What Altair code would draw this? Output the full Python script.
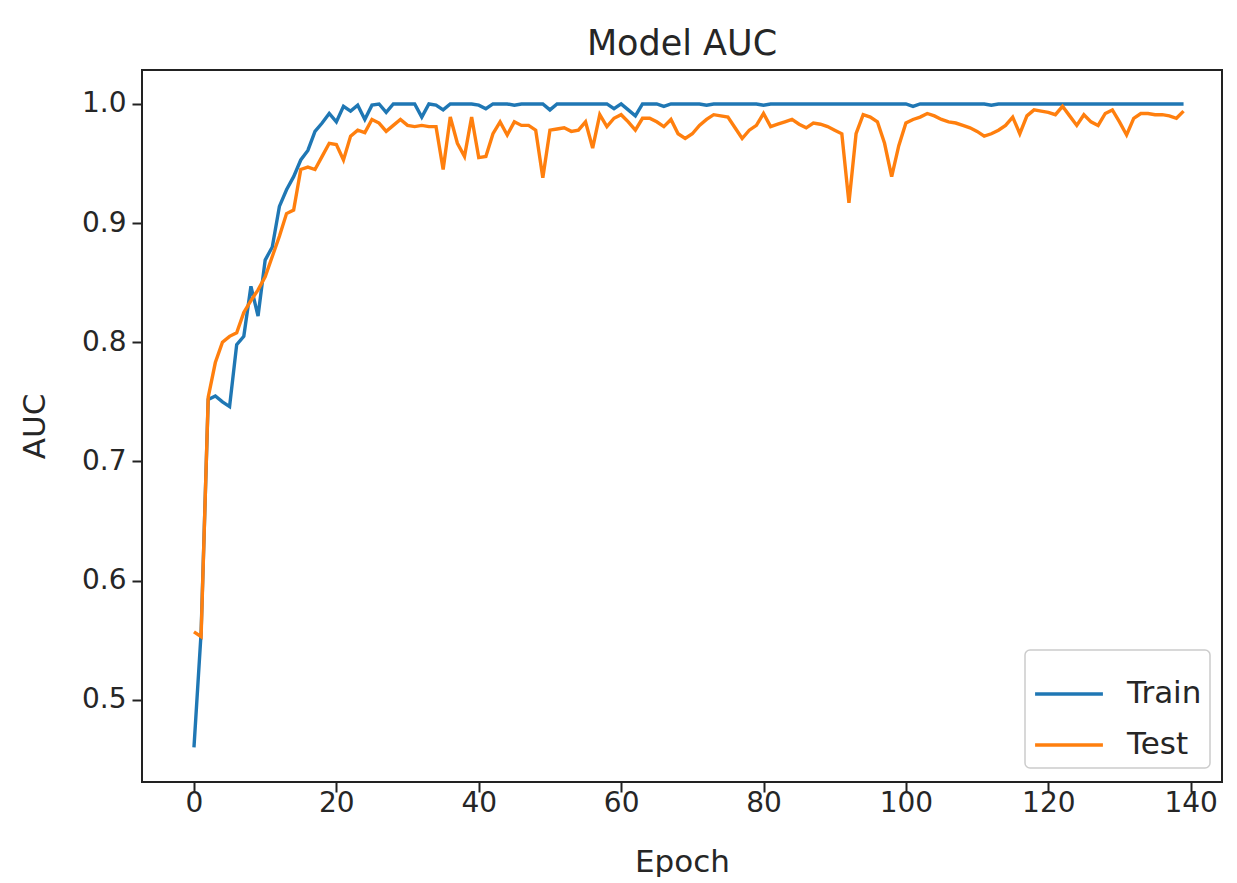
import altair as alt
import pandas as pd

epochs = list(range(140))

train_auc = [
    0.460, 0.556, 0.752, 0.755, 0.750, 0.746, 0.798, 0.805, 0.847, 0.822,
    0.869, 0.880, 0.914, 0.928, 0.939, 0.953, 0.961, 0.977, 0.984, 0.992,
    0.985, 0.998, 0.994, 0.999, 0.987, 0.999, 1.000, 0.993, 1.000, 1.000,
    1.000, 1.000, 0.989, 1.000, 0.999, 0.995, 1.000, 1.000, 1.000, 1.000,
    0.999, 0.996, 1.000, 1.000, 1.000, 0.999, 1.000, 1.000, 1.000, 1.000,
    0.995, 1.000, 1.000, 1.000, 1.000, 1.000, 1.000, 1.000, 1.000, 0.996,
    1.000, 0.995, 0.990, 1.000, 1.000, 1.000, 0.998, 1.000, 1.000, 1.000,
    1.000, 1.000, 0.999, 1.000, 1.000, 1.000, 1.000, 1.000, 1.000, 1.000,
    0.999, 1.000, 1.000, 1.000, 1.000, 1.000, 1.000, 1.000, 1.000, 1.000,
    1.000, 1.000, 1.000, 1.000, 1.000, 1.000, 1.000, 1.000, 1.000, 1.000,
    1.000, 0.998, 1.000, 1.000, 1.000, 1.000, 1.000, 1.000, 1.000, 1.000,
    1.000, 1.000, 0.999, 1.000, 1.000, 1.000, 1.000, 1.000, 1.000, 1.000,
    1.000, 1.000, 1.000, 1.000, 1.000, 1.000, 1.000, 1.000, 1.000, 1.000,
    1.000, 1.000, 1.000, 1.000, 1.000, 1.000, 1.000, 1.000, 1.000, 1.000,
]

test_auc = [
    0.557, 0.553, 0.754, 0.783, 0.800, 0.805, 0.808, 0.825, 0.835, 0.844,
    0.855, 0.872, 0.889, 0.908, 0.911, 0.945, 0.947, 0.945, 0.956, 0.967,
    0.966, 0.953, 0.973, 0.978, 0.976, 0.987, 0.984, 0.977, 0.982, 0.987,
    0.982, 0.981, 0.982, 0.981, 0.981, 0.945, 0.989, 0.967, 0.956, 0.989,
    0.955, 0.956, 0.975, 0.985, 0.974, 0.985, 0.982, 0.982, 0.978, 0.938,
    0.978, 0.979, 0.980, 0.977, 0.978, 0.985, 0.963, 0.991, 0.981, 0.988,
    0.991, 0.985, 0.978, 0.988, 0.988, 0.985, 0.981, 0.987, 0.975, 0.971,
    0.975, 0.982, 0.987, 0.991, 0.990, 0.989, 0.980, 0.971, 0.978, 0.982,
    0.992, 0.981, 0.983, 0.985, 0.987, 0.983, 0.980, 0.984, 0.983, 0.981,
    0.978, 0.975, 0.917, 0.975, 0.991, 0.989, 0.985, 0.967, 0.939, 0.965,
    0.984, 0.987, 0.989, 0.992, 0.990, 0.987, 0.985, 0.984, 0.982, 0.980,
    0.977, 0.973, 0.975, 0.978, 0.982, 0.989, 0.975, 0.990, 0.995, 0.994,
    0.993, 0.991, 0.998, 0.990, 0.982, 0.991, 0.985, 0.982, 0.992, 0.995,
    0.985, 0.974, 0.988, 0.992, 0.992, 0.991, 0.991, 0.990, 0.988, 0.994,
]

series_names = ["Train", "Test"]
series_colors = ["#1f77b4", "#ff7f0e"]
x_ticks = [0, 20, 40, 60, 80, 100, 120, 140]
y_ticks = [0.5, 0.6, 0.7, 0.8, 0.9, 1.0]

df = pd.concat([
    pd.DataFrame({"Epoch": epochs, "AUC": train_auc, "Series": "Train", "order": 0}),
    pd.DataFrame({"Epoch": epochs, "AUC": test_auc, "Series": "Test", "order": 1}),
])

FONT = "DejaVu Sans"
TXT = "#262626"

chart = alt.Chart(df).mark_line(strokeWidth=3.4, clip=True).encode(
    x=alt.X("Epoch:Q",
            scale=alt.Scale(domain=[-7.3, 144.4], nice=False, zero=False),
            axis=alt.Axis(values=x_ticks, title="Epoch", format="d",
                          labelPadding=-3, titlePadding=30)),
    y=alt.Y("AUC:Q",
            scale=alt.Scale(domain=[0.431, 1.0285], nice=False, zero=False),
            axis=alt.Axis(values=y_ticks, title="AUC", format=".1f",
                          labelPadding=6, titlePadding=30)),
    color=alt.Color("Series:N",
                    scale=alt.Scale(domain=series_names, range=series_colors),
                    sort=series_names,
                    legend=alt.Legend(title=None, orient="none",
                                      legendX=883, legendY=580)),
    order="order:Q",
).properties(
    width=1080,
    height=712,
    title=alt.Title("Model AUC", fontSize=35, font=FONT, color=TXT,
                    fontWeight="normal", offset=8),
    autosize=alt.AutoSizeParams(type="none"),
    padding={"left": 134, "top": 62, "right": 7, "bottom": 95},
).configure_view(
    stroke="#222222", strokeWidth=2
).configure_axis(
    grid=False, domain=False,
    labelFont=FONT, labelFontSize=28, labelColor=TXT,
    titleFont=FONT, titleFontSize=31, titleColor=TXT, titleFontWeight="normal",
    tickColor="#222222", tickWidth=2, tickSize=10,
).configure_legend(
    fillColor="white", strokeColor="#cccccc", strokeWidth=1.5, cornerRadius=5,
    padding=8, symbolType="stroke", symbolSize=4600, symbolStrokeWidth=3.5,
    labelFont=FONT, labelFontSize=31, labelColor=TXT, labelOffset=22,
    rowPadding=-4,
)

chart.save("out.html", embed_options={"renderer": "svg", "actions": False})
